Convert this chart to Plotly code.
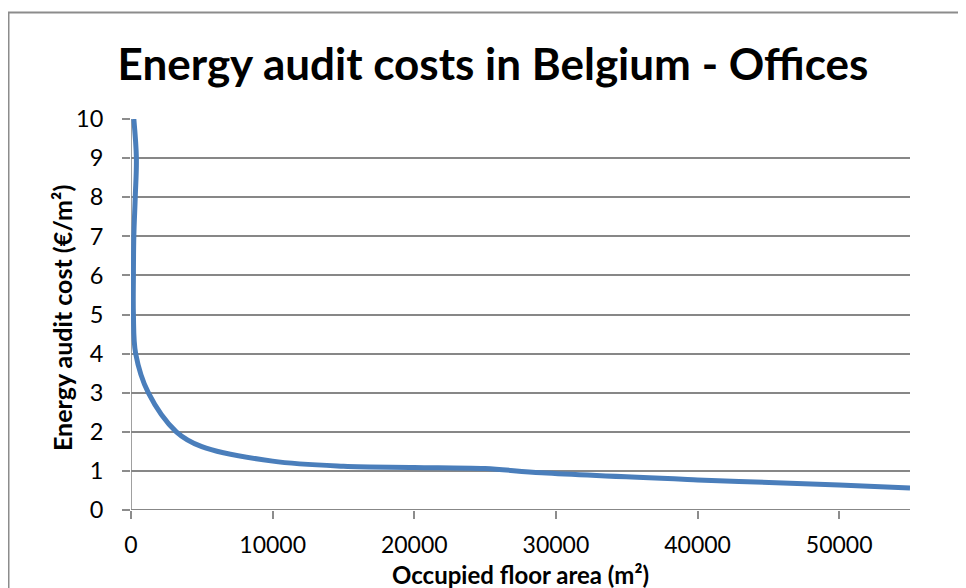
import plotly.graph_objects as go

# Data
floor_area = [200, 380, 300, 200, 170, 170, 330, 1220, 3200, 5000, 10000, 15000, 20000, 25000, 29000, 40000, 50000, 55000]
audit_cost = [10.0, 9.0, 8.0, 7.0, 6.0, 5.0, 4.0, 3.0, 2.0, 1.62, 1.25, 1.12, 1.09, 1.06, 0.95, 0.77, 0.64, 0.56]

x_ticks = [0, 10000, 20000, 30000, 40000, 50000]
y_ticks = [0, 1, 2, 3, 4, 5, 6, 7, 8, 9, 10]

title_text = "Energy audit costs in Belgium - Offices"
x_title = "Occupied floor area (m²)"
y_title = "Energy audit cost (€/m²)"

FONT = "Lato"
# page has an 8px body margin, so the figure is 8px smaller than the window
W, H = 958, 580
ML, MR, MT, MB = 123, 56, 111, 78
pw = W - ML - MR
ph = H - MT - MB

fig = go.Figure()
fig.add_trace(go.Scatter(
    x=floor_area, y=audit_cost, mode="lines",
    line=dict(color="#4a7ebb", width=5, shape="spline", smoothing=1.0),
    showlegend=False, hoverinfo="x+y",
))

fig.update_layout(
    width=W, height=H,
    margin=dict(l=ML, r=MR, t=MT, b=MB, autoexpand=False),
    paper_bgcolor="white", plot_bgcolor="white",
    font=dict(family=FONT, color="black"),
    title=dict(text="<b>" + title_text + "</b>", x=(493 - 8) / W, xanchor="center",
               y=1 - 56.5 / H, yanchor="middle",
               font=dict(family=FONT, size=44, color="black")),
    xaxis=dict(
        range=[0, 55000], tickvals=x_ticks, ticktext=[str(v) for v in x_ticks],
        showgrid=False, zeroline=False, showline=False,
        ticks="outside", ticklen=8, tickcolor="#8c8c8c", tickwidth=2,
        ticklabelstandoff=6,
        tickfont=dict(family=FONT, size=23, color="black"),
    ),
    yaxis=dict(
        range=[0, 10], tickvals=y_ticks,
        showgrid=True, gridcolor="#878787", gridwidth=2,
        zeroline=False, showline=False,
        ticks="outside", ticklen=8, tickcolor="#8c8c8c", tickwidth=2,
        ticklabelstandoff=14,
        tickfont=dict(family=FONT, size=23.5, color="black"),
    ),
)

# axis titles placed as annotations
fig.add_annotation(text="<b>" + x_title + "</b>", xref="paper", yref="paper",
                   x=0.5, y=-(566 - (H - MB)) / ph, xanchor="center", yanchor="middle",
                   showarrow=False, font=dict(family=FONT, size=24, color="black"))
fig.add_annotation(text="<b>" + y_title + "</b>", xref="paper", yref="paper",
                   x=(54 - ML) / pw, y=1 - (310 - MT) / ph, xanchor="center", yanchor="middle",
                   textangle=-90, showarrow=False,
                   font=dict(family=FONT, size=25, color="black"))

# y axis line at x=0 and x axis line at y=0
fig.add_shape(type="line", xref="x", yref="paper", x0=0, x1=0, y0=0, y1=1,
              line=dict(color="#a0a0a0", width=2), layer="below")
fig.add_shape(type="line", xref="paper", yref="y", x0=0, x1=1, y0=0, y1=0,
              line=dict(color="#878787", width=2), layer="below")

# chart-area border (top and left visible; right/bottom run off the frame)
bx0 = (0.5 - ML) / pw
by1 = 1 + (MT - 4.5) / ph
fig.add_shape(type="rect", xref="paper", yref="paper",
              x0=bx0, x1=1 + (MR + 20) / pw, y0=-(MB + 20) / ph, y1=by1,
              line=dict(color="#8c8c8c", width=2), fillcolor="rgba(0,0,0,0)")

fig.write_html("out.html")
